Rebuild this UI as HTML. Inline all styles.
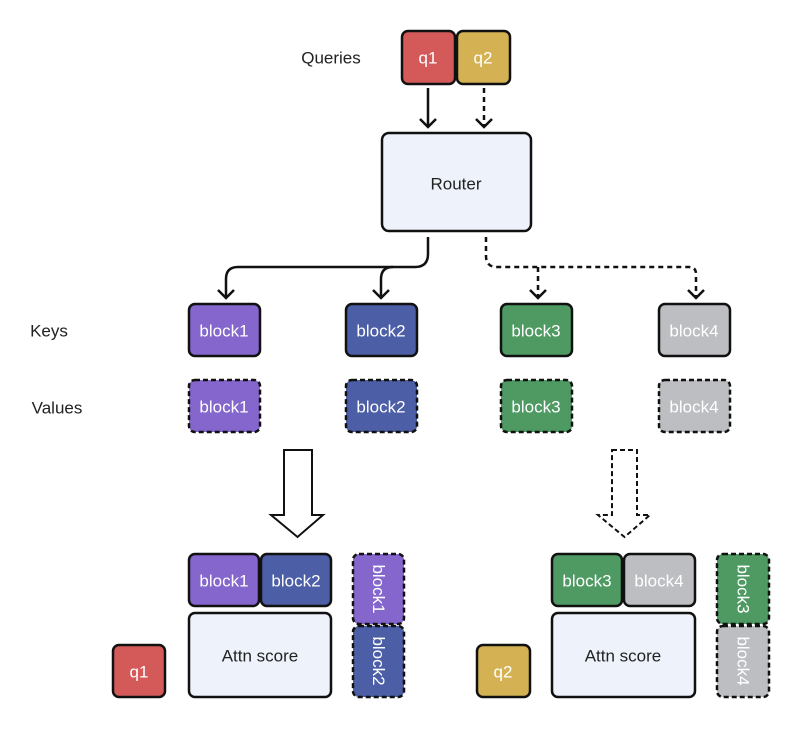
<!DOCTYPE html>
<html><head><meta charset="utf-8"><style>
html,body{margin:0;padding:0;background:#fff}
svg{display:block}
text{font-family:"Liberation Sans",sans-serif;font-size:17px;dominant-baseline:central;text-anchor:middle}
.w{fill:#fff}.d{fill:#222}
</style></head><body>
<svg width="800" height="729" viewBox="0 0 800 729" xmlns="http://www.w3.org/2000/svg">
<g stroke="#111" stroke-width="2.5">
<rect x="402" y="31" width="53" height="53" rx="6" fill="#d45a5a"/>
<rect x="457" y="31" width="53" height="53" rx="6" fill="#d4b253"/>
<rect x="382" y="133" width="149" height="98" rx="7" fill="#eef3fb"/>
<rect x="189" y="304" width="71" height="52" rx="6" fill="#8466cc"/>
<rect x="346" y="304" width="71" height="52" rx="6" fill="#4b5ea6"/>
<rect x="501" y="304" width="71" height="52" rx="6" fill="#4e9a62"/>
<rect x="659" y="304" width="71" height="52" rx="6" fill="#bcbec2"/>
<g stroke-dasharray="5,3">
<rect x="189" y="380" width="71" height="52" rx="6" fill="#8466cc"/>
<rect x="346" y="380" width="71" height="52" rx="6" fill="#4b5ea6"/>
<rect x="501" y="380" width="71" height="52" rx="6" fill="#4e9a62"/>
<rect x="659" y="380" width="71" height="52" rx="6" fill="#bcbec2"/>
</g>
<rect x="189" y="554" width="70" height="52" rx="6" fill="#8466cc"/>
<rect x="261" y="554" width="70" height="52" rx="6" fill="#4b5ea6"/>
<rect x="189" y="613" width="142" height="84" rx="6" fill="#eef3fb"/>
<rect x="113" y="645" width="52" height="52" rx="6" fill="#d45a5a"/>
<rect x="353" y="554" width="51" height="70" rx="6" fill="#8466cc" stroke-dasharray="5,3"/>
<rect x="353" y="626" width="51" height="71" rx="6" fill="#4b5ea6" stroke-dasharray="5,3"/>
<rect x="552" y="554" width="70" height="52" rx="6" fill="#4e9a62"/>
<rect x="624" y="554" width="71" height="52" rx="6" fill="#bcbec2"/>
<rect x="552" y="613" width="143" height="84" rx="6" fill="#eef3fb"/>
<rect x="477" y="645" width="53" height="52" rx="6" fill="#d4b253"/>
<rect x="717" y="554" width="52" height="70" rx="6" fill="#4e9a62" stroke-dasharray="5,3"/>
<rect x="717" y="626" width="52" height="71" rx="6" fill="#bcbec2" stroke-dasharray="5,3"/>
</g>
<g stroke="#111" stroke-width="2.5" fill="none">
<path d="M428 88V127M420 119L428 127L436 119"/>
<path d="M484 88V127" stroke-dasharray="5,4"/>
<path d="M476 119L484 127L492 119"/>
<path d="M428 237V254Q428 267 415 267H238Q226 267 226 279V298"/>
<path d="M381 279V298"/>
<path d="M393 267Q381 267 381 279"/>
<path d="M218 290L226 298L234 290M373 290L381 298L389 290"/>
<path d="M486 237V256Q486 267 497 267H689Q696 267 696 274V298M538 267V298" stroke-dasharray="5,4"/>
<path d="M530 290L538 298L546 290M688 290L696 298L704 290"/>
<path d="M284 450H312V515H323L297.5 537L271 515H284Z" stroke-width="2"/>
<path d="M612 450H637V515H650L624.5 537L598 515H612Z" stroke-width="2" stroke-dasharray="5,3"/>
</g>
<text x="331" y="58" class="d">Queries</text>
<text x="49" y="331" class="d">Keys</text>
<text x="57" y="408" class="d">Values</text>
<text x="428" y="58" class="w">q1</text>
<text x="483" y="58" class="w">q2</text>
<text x="456" y="184" class="d">Router</text>
<text x="224" y="331" class="w">block1</text>
<text x="381" y="331" class="w">block2</text>
<text x="536" y="331" class="w">block3</text>
<text x="694" y="331" class="w">block4</text>
<text x="224" y="407" class="w">block1</text>
<text x="381" y="407" class="w">block2</text>
<text x="536" y="407" class="w">block3</text>
<text x="694" y="407" class="w">block4</text>
<text x="224" y="581" class="w">block1</text>
<text x="296" y="581" class="w">block2</text>
<text x="260" y="656" class="d">Attn score</text>
<text x="139" y="672" class="w">q1</text>
<text x="587" y="581" class="w">block3</text>
<text x="659" y="581" class="w">block4</text>
<text x="623" y="656" class="d">Attn score</text>
<text x="503" y="672" class="w">q2</text>
<text transform="translate(378.5 589) rotate(90)" class="w">block1</text>
<text transform="translate(378.5 661) rotate(90)" class="w">block2</text>
<text transform="translate(743 589) rotate(90)" class="w">block3</text>
<text transform="translate(743 661) rotate(90)" class="w">block4</text>
</svg>
</body></html>
